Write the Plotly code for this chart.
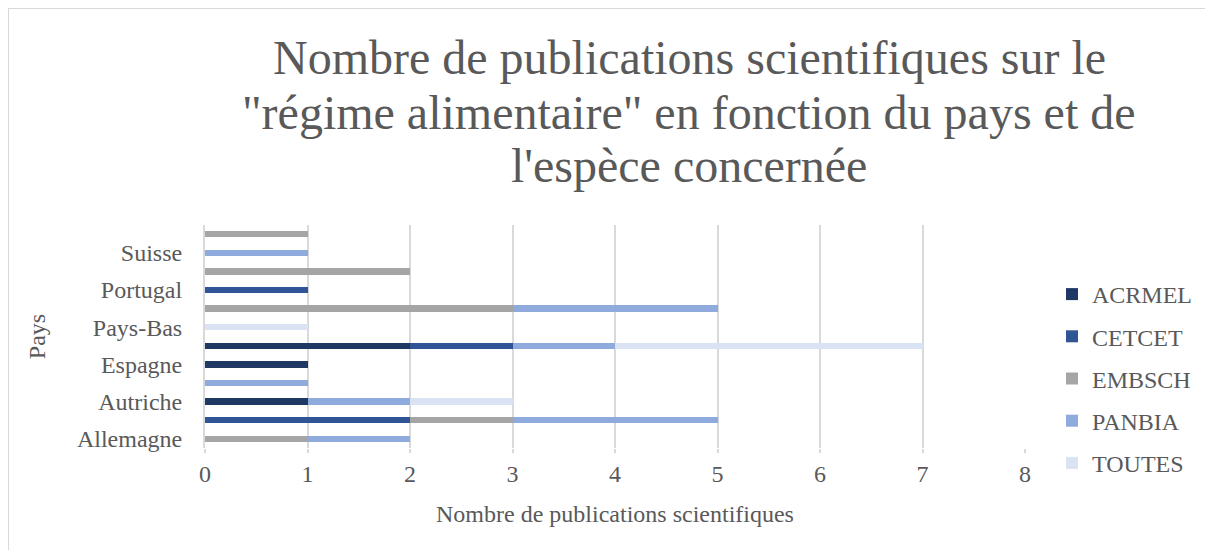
import plotly.graph_objects as go

countries = ["Allemagne", "Angleterre", "Autriche", "Belgique", "Espagne", "France",
             "Pays-Bas", "Pologne", "Portugal", "Royaume-Uni", "Suisse", "Tchéquie"]
shown_labels = ["Allemagne", "Autriche", "Espagne", "Pays-Bas", "Portugal", "Suisse"]

series_names = ["ACRMEL", "CETCET", "EMBSCH", "PANBIA", "TOUTES"]
acrmel = [0, 0, 1, 0, 1, 2, 0, 0, 0, 0, 0, 0]
cetcet = [0, 2, 0, 0, 0, 1, 0, 0, 1, 0, 0, 0]
embsch = [1, 1, 0, 0, 0, 0, 0, 3, 0, 2, 0, 1]
panbia = [1, 2, 1, 1, 0, 1, 0, 2, 0, 0, 1, 0]
toutes = [0, 0, 1, 0, 0, 3, 1, 0, 0, 0, 0, 0]
series_values = [acrmel, cetcet, embsch, panbia, toutes]
colors = ["#203864", "#2F5597", "#A5A5A5", "#8FAADC", "#DAE3F3"]

title_lines = ["Nombre de publications scientifiques sur le",
               "\"régime alimentaire\" en fonction du pays et de",
               "l'espèce concernée"]

FONT = "Liberation Serif, Times New Roman, serif"
GRAY = "#595959"

fig = go.Figure()
for name, vals, col in zip(series_names, series_values, colors):
    fig.add_trace(go.Bar(
        y=countries, x=vals, name=name, orientation="h",
        marker=dict(color=col, line=dict(width=0)),
        legendgroup=name,
    ))

# The page body has an 8px margin on every side; keep the figure inside the
# window (no scrollbars) and design in screen pixels.
OFF = 8
SW, SH = 1213, 558
W, H = SW - 2 * OFF, SH - 2 * OFF
# plot area on screen: x 205..1025, y 225..448
L = 205 - OFF
T = 225 - OFF
R = W - (1025 - OFF)
B = H - (448 - OFF)
pw, ph = W - L - R, H - T - B

def px_x(x):
    return (x - OFF - L) / pw

def px_y(y):
    return (H - B - (y - OFF)) / ph

annotations = []
for line, yc in zip(title_lines, [57, 112, 166]):
    annotations.append(dict(
        text=line, x=px_x(689), y=px_y(yc), xref="paper", yref="paper",
        xanchor="center", yanchor="middle", showarrow=False,
        font=dict(family=FONT, size=48, color=GRAY)))

border = dict(color="#D9D9D9", width=2)
fig.update_layout(
    width=W, height=H,
    margin=dict(l=L, r=R, t=T, b=B, pad=0, autoexpand=False),
    paper_bgcolor="white", plot_bgcolor="white",
    barmode="stack", bargap=0.66,
    font=dict(family=FONT, size=24, color=GRAY),
    annotations=annotations,
    legend=dict(x=px_x(1052), y=px_y(272), xanchor="left", yanchor="top",
                traceorder="grouped", tracegroupgap=8,
                font=dict(family=FONT, size=24, color=GRAY),
                itemwidth=30, bgcolor="rgba(0,0,0,0)"),
    shapes=[
        dict(type="line", xref="paper", yref="paper",
             x0=px_x(OFF), x1=px_x(SW - OFF), y0=px_y(OFF), y1=px_y(OFF),
             line=border, layer="below"),
        dict(type="line", xref="paper", yref="paper",
             x0=px_x(OFF), x1=px_x(OFF), y0=px_y(OFF), y1=px_y(SH - OFF),
             line=border, layer="below"),
    ],
)

fig.update_xaxes(
    automargin=False,
    range=[0, 8], dtick=1, tick0=0, showgrid=True, gridcolor="#D9D9D9", gridwidth=2,
    zeroline=False, showline=False, ticks="outside", ticklen=4, tickcolor="#D9D9D9",
    tickwidth=2,
    tickfont=dict(family=FONT, size=24, color=GRAY),
    title=dict(text="Nombre de publications scientifiques",
               font=dict(family=FONT, size=24, color=GRAY), standoff=19),
)
fig.update_yaxes(
    automargin=False,
    type="category", categoryorder="array", categoryarray=countries,
    tickmode="array", tickvals=shown_labels, ticktext=shown_labels,
    showgrid=False, showline=True, linecolor="#D9D9D9", linewidth=2,
    ticks="", ticklabelstandoff=16,
    tickfont=dict(family=FONT, size=24, color=GRAY),
    title=dict(text="Pays", font=dict(family=FONT, size=24, color=GRAY), standoff=25),
)

fig.write_html("out.html")
